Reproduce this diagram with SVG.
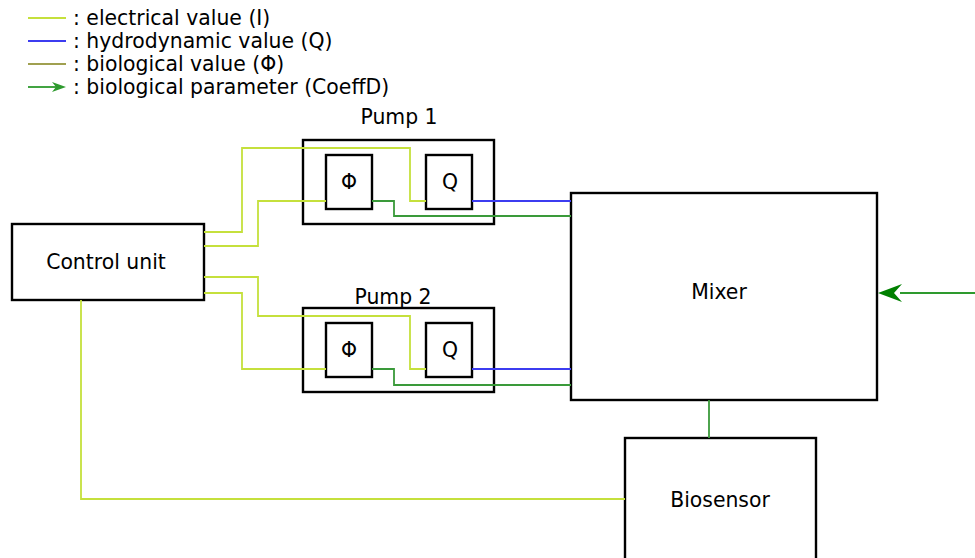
<svg xmlns="http://www.w3.org/2000/svg" width="975" height="558" viewBox="0 0 975 558">
<style>
text{font-family:"DejaVu Sans",sans-serif;font-size:20.4px;fill:#000}
.box{fill:#fff;stroke:#000;stroke-width:2.4}
.e{fill:none;stroke:#c5e03c;stroke-width:1.8}
.h{fill:none;stroke:#3c3cf0;stroke-width:1.8}
.b{fill:none;stroke:#a0a050;stroke-width:1.8}
.g{fill:none;stroke:#3a9a3a;stroke-width:1.8}
.p{fill:none;stroke:#2e9a2e;stroke-width:1.8}
.c{text-anchor:middle}
</style>
<g id="legend">
<line class="e" x1="28" y1="18" x2="66" y2="18"/>
<text x="73" y="25">: electrical value (I)</text>
<line class="h" x1="28" y1="41" x2="66" y2="41"/>
<text x="73" y="48">: hydrodynamic value (Q)</text>
<line class="b" x1="28" y1="64" x2="66" y2="64"/>
<text x="73" y="71">: biological value (Φ)</text>
<line class="p" x1="28" y1="87" x2="58" y2="87"/>
<path d="M66,87 L52,82 L56,87 L52,92 Z" fill="#2e9a2e"/>
<text x="73" y="94">: biological parameter (CoeffD)</text>
</g>
<g id="control-unit">
<rect class="box" x="12" y="224" width="192" height="76"/>
<text class="c" x="106" y="269">Control unit</text>
</g>
<g id="pump1">
<text class="c" x="399" y="124">Pump 1</text>
<rect class="box" x="303" y="140" width="191" height="84"/>
</g>
<g id="pump1-phi">
<rect class="box" x="326" y="155" width="46" height="54"/>
<text class="c" x="349" y="189">Φ</text>
</g>
<g id="pump1-q">
<rect class="box" x="426" y="155" width="46" height="54"/>
<text class="c" x="450" y="189">Q</text>
</g>
<g id="pump2">
<text class="c" x="393" y="304">Pump 2</text>
<rect class="box" x="303" y="308" width="191" height="84" style="fill:none"/>
</g>
<g id="pump2-phi">
<rect class="box" x="326" y="323" width="46" height="54"/>
<text class="c" x="349" y="357">Φ</text>
</g>
<g id="pump2-q">
<rect class="box" x="426" y="323" width="46" height="54"/>
<text class="c" x="450" y="357">Q</text>
</g>
<g id="mixer">
<rect class="box" x="571" y="193" width="306" height="207"/>
<text class="c" x="719" y="299">Mixer</text>
</g>
<g id="biosensor">
<rect class="box" x="625" y="438" width="191" height="130"/>
<text class="c" x="720" y="507">Biosensor</text>
</g>
<g id="connectors">
<polyline class="e" points="204,232 242,232 242,148 410,148 410,201 426,201"/>
<polyline class="e" points="204,246 258,246 258,201 326,201"/>
<polyline class="g" points="372,201 394,201 394,216 571,216"/>
<polyline class="h" points="472,201 571,201"/>
<polyline class="e" points="204,277 258,277 258,316 410,316 410,369 426,369"/>
<polyline class="e" points="204,293 242,293 242,369 326,369"/>
<polyline class="g" points="372,369 394,369 394,385 571,385"/>
<polyline class="h" points="472,369 571,369"/>
<polyline class="g" points="709,400 709,438"/>
<polyline class="e" points="81,300 81,499 625,499"/>
<line class="p" x1="975" y1="293" x2="900" y2="293"/>
<path d="M878,293 L902,284 L894,293 L902,302 Z" fill="#008000"/>
</g>
</svg>
